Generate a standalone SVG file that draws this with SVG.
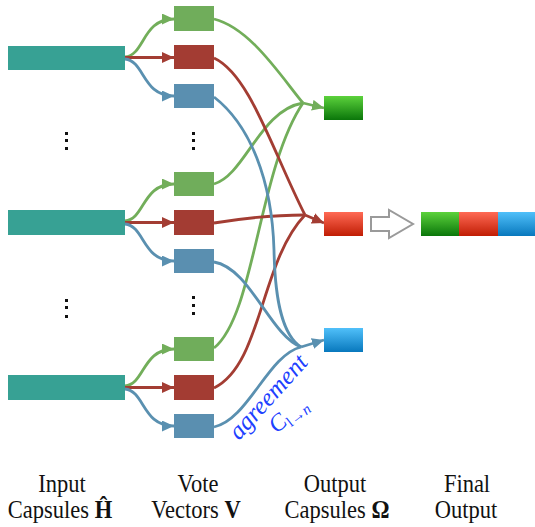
<svg xmlns="http://www.w3.org/2000/svg" width="535" height="527" viewBox="0 0 535 527">
<style>
.inp{fill:#37a194}
.vg{fill:#70ad5b}
.vr{fill:#a33c33}
.vb{fill:#5a8fb0}
.cg{fill:none;stroke:#72ae5a;stroke-width:2.8}
.cr{fill:none;stroke:#a33d33;stroke-width:2.8}
.cb{fill:none;stroke:#5a90b0;stroke-width:2.8}
.dot{fill:#111}
.lbl{font-family:"Liberation Serif","Times New Roman",serif;font-size:25px;fill:#111;text-anchor:middle}
.agr{font-family:"Liberation Serif","Times New Roman",serif;font-style:italic;fill:#2040ff}
</style>
<defs>
<marker id="ag" markerUnits="userSpaceOnUse" markerWidth="12" markerHeight="11" refX="12" refY="5.5" orient="auto"><path d="M0,0 L12,5.5 L0,11 z" fill="#72ae5a"/></marker>
<marker id="ar" markerUnits="userSpaceOnUse" markerWidth="12" markerHeight="11" refX="12" refY="5.5" orient="auto"><path d="M0,0 L12,5.5 L0,11 z" fill="#a33d33"/></marker>
<marker id="ab" markerUnits="userSpaceOnUse" markerWidth="12" markerHeight="11" refX="12" refY="5.5" orient="auto"><path d="M0,0 L12,5.5 L0,11 z" fill="#5a90b0"/></marker>
<linearGradient id="gg" x1="0" y1="0" x2="0" y2="1"><stop offset="0" stop-color="#5cd23c"/><stop offset="1" stop-color="#0a760a"/></linearGradient>
<linearGradient id="gr" x1="0" y1="0" x2="0" y2="1"><stop offset="0" stop-color="#ff6a55"/><stop offset="1" stop-color="#c01d04"/></linearGradient>
<linearGradient id="gb" x1="0" y1="0" x2="0" y2="1"><stop offset="0" stop-color="#50c0fa"/><stop offset="1" stop-color="#0878bd"/></linearGradient>
</defs>

<g id="connectors">
<path class="cg" d="M125,57 C145,55 142,19 174,19" marker-end="url(#ag)"/>
<path class="cr" d="M125,57.5 L174,57.5" marker-end="url(#ar)"/>
<path class="cb" d="M125,59 C145,61 142,96 174,96" marker-end="url(#ab)"/>
<path class="cg" d="M125,221 C145,219 142,184 174,184" marker-end="url(#ag)"/>
<path class="cr" d="M125,222.5 L174,222.5" marker-end="url(#ar)"/>
<path class="cb" d="M125,224 C145,226 142,261 174,261" marker-end="url(#ab)"/>
<path class="cg" d="M125,386 C145,384 142,349 174,349" marker-end="url(#ag)"/>
<path class="cr" d="M125,387.5 L174,387.5" marker-end="url(#ar)"/>
<path class="cb" d="M125,389 C145,391 142,426 174,426" marker-end="url(#ab)"/>
<path class="cg" d="M214,19 C250,28 280,75 303,103"/>
<path class="cg" d="M214,184 C245,175 260,110 303,103"/>
<path class="cg" d="M214,348 C255,315 258,170 303,103"/>
<path class="cg" d="M303,103 L324,108" marker-end="url(#ag)"/>
<path class="cr" d="M214,58 C250,75 272,150 305,215"/>
<path class="cr" d="M214,223 C245,218 275,215 305,215"/>
<path class="cr" d="M214,388 C262,365 260,262 305,215"/>
<path class="cr" d="M305,215 L324,223" marker-end="url(#ar)"/>
<path class="cb" d="M214,97 C250,125 272,180 274,250 C275,300 282,335 301,347"/>
<path class="cb" d="M214,262 C250,268 270,335 301,347"/>
<path class="cb" d="M214,427 C248,420 268,355 301,347"/>
<path class="cb" d="M301,347 L324,340" marker-end="url(#ab)"/>
</g>

<g id="input1"><rect class="inp" x="8" y="46" width="117" height="24"/></g>
<g id="input2"><rect class="inp" x="8" y="210" width="117" height="25"/></g>
<g id="input3"><rect class="inp" x="8" y="375" width="117" height="25"/></g>

<g id="vote1g"><rect class="vg" x="174" y="6" width="40" height="25"/></g>
<g id="vote1r"><rect class="vr" x="174" y="45" width="40" height="24"/></g>
<g id="vote1b"><rect class="vb" x="174" y="84" width="40" height="24"/></g>
<g id="vote2g"><rect class="vg" x="174" y="172" width="40" height="24"/></g>
<g id="vote2r"><rect class="vr" x="174" y="210" width="40" height="25"/></g>
<g id="vote2b"><rect class="vb" x="174" y="249" width="40" height="24"/></g>
<g id="vote3g"><rect class="vg" x="174" y="337" width="40" height="24"/></g>
<g id="vote3r"><rect class="vr" x="174" y="375" width="40" height="25"/></g>
<g id="vote3b"><rect class="vb" x="174" y="414" width="40" height="24"/></g>

<g id="dots">
<rect class="dot" x="65" y="132" width="3" height="3"/><rect class="dot" x="65" y="139" width="3" height="3"/><rect class="dot" x="65" y="147" width="3" height="3"/>
<rect class="dot" x="192" y="132" width="3" height="3"/><rect class="dot" x="192" y="139" width="3" height="3"/><rect class="dot" x="192" y="147" width="3" height="3"/>
<rect class="dot" x="65" y="299" width="3" height="3"/><rect class="dot" x="65" y="306" width="3" height="3"/><rect class="dot" x="65" y="315" width="3" height="3"/>
<rect class="dot" x="192" y="296" width="3" height="3"/><rect class="dot" x="192" y="304" width="3" height="3"/><rect class="dot" x="192" y="312" width="3" height="3"/>
</g>

<g id="out-green"><rect x="324" y="96" width="39" height="24" fill="url(#gg)"/></g>
<g id="out-red"><rect x="324" y="212" width="39" height="24" fill="url(#gr)"/></g>
<g id="out-blue"><rect x="324" y="328" width="39" height="24" fill="url(#gb)"/></g>

<g id="hollow-arrow"><polygon points="371,217 389,217 389,210 413,224 389,238 389,231 371,231" fill="#fff" stroke="#9a9a9a" stroke-width="2"/></g>

<g id="final-output">
<rect x="421" y="212" width="38.5" height="24" fill="url(#gg)"/>
<rect x="459" y="212" width="39.5" height="24" fill="url(#gr)"/>
<rect x="498" y="212" width="37" height="24" fill="url(#gb)"/>
</g>

<g id="agreement">
<text class="agr" font-size="25" transform="translate(239,441) rotate(-48)">agreement</text>
<text class="agr" font-size="24" transform="translate(276,434) rotate(-38)">C<tspan font-size="15" dy="4" font-style="normal">l→</tspan><tspan font-size="15">n</tspan></text>
</g>

<g id="labels">
<text class="lbl" transform="matrix(0.9,0,0,1,62,492)">Input</text>
<text class="lbl" transform="matrix(0.9,0,0,1,60,518)">Capsules <tspan font-weight="bold">Ĥ</tspan></text>
<text class="lbl" transform="matrix(0.9,0,0,1,198,492)">Vote</text>
<text class="lbl" transform="matrix(0.9,0,0,1,196,518)">Vectors <tspan font-weight="bold">V</tspan></text>
<text class="lbl" transform="matrix(0.9,0,0,1,335,492)">Output</text>
<text class="lbl" transform="matrix(0.9,0,0,1,337,518)">Capsules <tspan font-weight="bold">Ω</tspan></text>
<text class="lbl" transform="matrix(0.9,0,0,1,467,492)">Final</text>
<text class="lbl" transform="matrix(0.9,0,0,1,466,518)">Output</text>
</g>
</svg>
